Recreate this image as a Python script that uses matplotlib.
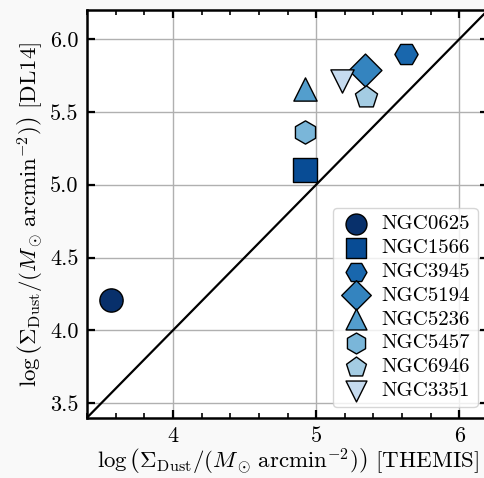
import numpy as np
import matplotlib
matplotlib.use("Agg")
import matplotlib.pyplot as plt

plt.rcParams['font.family'] = 'serif'
plt.rcParams['font.serif'] = ['cmr10']
plt.rcParams['mathtext.fontset'] = 'cm'
plt.rcParams['axes.unicode_minus'] = False
plt.rcParams['axes.formatter.use_mathtext'] = True

galaxies = ['NGC0625', 'NGC1566', 'NGC3945', 'NGC5194', 'NGC5236', 'NGC5457', 'NGC6946', 'NGC3351']
themis = [3.57, 4.92, 5.63, 5.34, 4.92, 4.92, 5.35, 5.18]
dl14 = [4.21, 5.10, 5.90, 5.79, 5.66, 5.36, 5.60, 5.71]
markers = ['o', 's', 'H', 'D', '^', 'h', 'p', 'v']
xtick_vals = [4, 5, 6]
xtick_labels = ['4', '5', '6']
ytick_vals = [3.5, 4.0, 4.5, 5.0, 5.5, 6.0]
ytick_labels = ['3.5', '4.0', '4.5', '5.0', '5.5', '6.0']

colors = plt.cm.Blues(np.linspace(1.0, 0.25, len(galaxies)))

fig = plt.figure(figsize=(4.85, 4.78), dpi=100, facecolor='#f9f9f9')
ax = fig.add_axes([87/485, 60.3/478, 401/485, 407.7/478])
ax.set_facecolor('white')

for g, x, y, m, c in zip(galaxies, themis, dl14, markers, colors):
    ax.scatter(x, y, marker=m, s=280, color=c, edgecolor='black', linewidth=1.0, label=g, zorder=3)

lims = [3.4, 6.2]
ax.plot(lims, lims, color='black', lw=1.6, zorder=2)
ax.set_xlim(lims)
ax.set_ylim(lims)

ax.set_xticks(xtick_vals)
ax.set_xticklabels(xtick_labels)
ax.set_xticks(np.arange(3.4, 6.21, 0.2), minor=True)
ax.set_yticks(ytick_vals)
ax.set_yticklabels(ytick_labels)

ax.grid(True, which='major', color='#b0b0b0', lw=1.0, zorder=0)
ax.set_axisbelow(True)
ax.tick_params(which='both', direction='in', top=True, right=True, labelsize=16)
ax.tick_params(which='major', length=6, width=1.6, pad=6)
ax.tick_params(which='minor', length=3.5, width=1.2)
for sp in ax.spines.values():
    sp.set_linewidth(1.8)

ax.set_xlabel(r'$\log\left(\Sigma_{\rm Dust}/(M_\odot\,{\rm arcmin}^{-2})\right)$ [THEMIS]', fontsize=16.5, labelpad=1)
ax.set_ylabel(r'$\log\left(\Sigma_{\rm Dust}/(M_\odot\,{\rm arcmin}^{-2})\right)$ [DL14]', fontsize=16.5, labelpad=3)

leg = ax.legend(loc='lower right', fontsize=15, framealpha=0.8, handletextpad=0.5,
                borderpad=0.35, labelspacing=0.25, markerscale=0.9, handlelength=1.5,
                borderaxespad=0.5)

fig.savefig('out.png', dpi=100, facecolor=fig.get_facecolor())
